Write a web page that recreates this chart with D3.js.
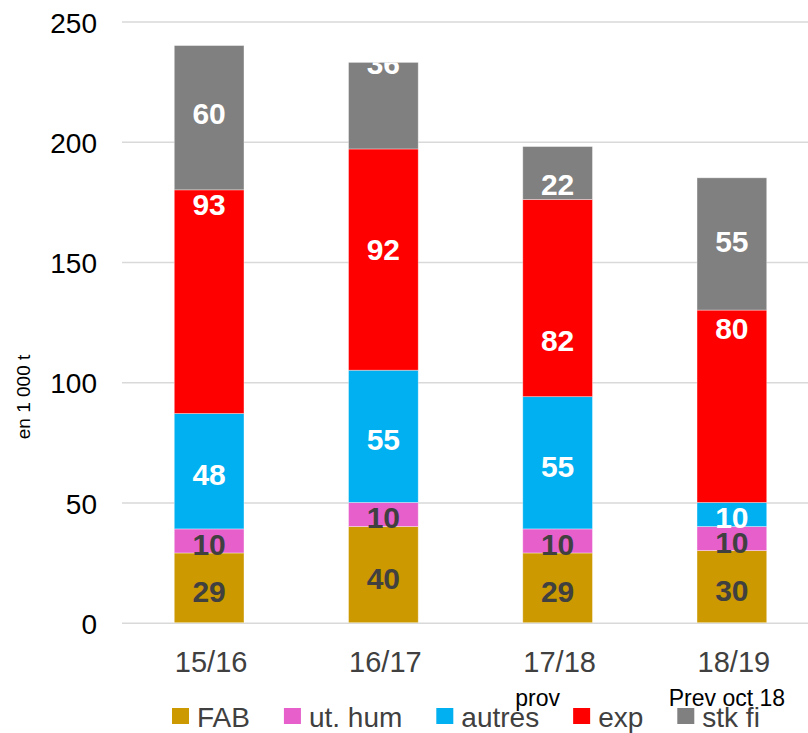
<!DOCTYPE html>
<html>
<head>
<meta charset="utf-8">
<script src="https://cdn.jsdelivr.net/npm/d3@7"></script>
<style>
  body { margin: 0; background: #fff; }
  text { font-family: "Liberation Sans", Arial, sans-serif; }
</style>
</head>
<body>
<svg id="chart" width="808" height="733"></svg>
<script>
// Harvest balance per campaign, in 1 000 t
const categories = ["15/16", "16/17", "17/18", "18/19"];
const subLabels = ["", "", "prov", "Prev oct 18"];
const seriesNames = ["FAB", "ut. hum", "autres", "exp", "stk fi"];
const fab = [29, 40, 29, 30];
const utHum = [10, 10, 10, 10];
const autres = [48, 55, 55, 10];
const exp = [93, 92, 82, 80];
const stkFi = [60, 36, 22, 55];
const yTicks = [0, 50, 100, 150, 200, 250];

// label nudges (data units) for the upper two series
const expLabelShift = [42, 5.5, -16, 34];
const stkLabelShift = [3, 19, -3.5, 2.5];
const subLabelDx = [0, 0, -20, -5];

const colors = ["#CC9900", "#E65FCB", "#00B0F0", "#FF0000", "#808080"];
const labelColors = ["#404040", "#404040", "#ffffff", "#ffffff", "#ffffff"];

const seriesValues = [fab, utHum, autres, exp, stkFi];
const shifts = [null, null, null, expLabelShift, stkLabelShift];

const rows = categories.map((c, i) => {
  const r = { cat: c, idx: i };
  seriesNames.forEach((s, k) => { r[s] = seriesValues[k][i]; });
  return r;
});

const stacked = d3.stack().keys(seriesNames)(rows);

const svg = d3.select("#chart");
const W = 808;
const plotLeft = 122;

const x = d3.scaleBand()
  .domain(categories)
  .range([plotLeft, 819])
  .paddingInner(0.6)
  .paddingOuter(0.3);

const y = d3.scaleLinear().domain([0, 250]).range([622.7, 21.5]);

// gridlines + value axis
const yAxis = d3.axisLeft(y)
  .tickValues(yTicks)
  .tickSizeInner(-(W - plotLeft))
  .tickSizeOuter(0)
  .tickPadding(25);

const gy = svg.append("g")
  .attr("transform", `translate(${plotLeft},0)`)
  .call(yAxis);
gy.select(".domain").remove();
gy.selectAll(".tick line")
  .attr("stroke", "#d9d9d9")
  .attr("stroke-width", 1.4);
gy.selectAll(".tick text")
  .attr("dy", "0.38em")
  .style("font-size", "28px")
  .attr("fill", "#000");

// clip regions per column so labels stay inside their bar
const defs = svg.append("defs");
rows.forEach((r, i) => {
  const total = seriesNames.reduce((a, s) => a + r[s], 0);
  defs.append("clipPath").attr("id", "col" + i)
    .append("rect")
    .attr("x", x(r.cat))
    .attr("y", y(total))
    .attr("width", x.bandwidth())
    .attr("height", y(0) - y(total));
});

// stacked bars
const layers = svg.append("g").selectAll("g")
  .data(stacked)
  .join("g")
  .attr("fill", (d, k) => colors[k]);

layers.selectAll("rect")
  .data(d => d)
  .join("rect")
  .attr("x", d => x(d.data.cat))
  .attr("y", d => y(d[1]))
  .attr("width", x.bandwidth())
  .attr("height", d => y(d[0]) - y(d[1]))
  .attr("stroke", "#ffffff")
  .attr("stroke-opacity", 0.45)
  .attr("stroke-width", 0.8);

// value labels
const labelG = svg.append("g");
stacked.forEach((layer, k) => {
  layer.forEach((d, i) => {
    const mid = (d[0] + d[1]) / 2 + (shifts[k] ? shifts[k][i] : 0);
    labelG.append("text")
      .attr("clip-path", `url(#col${i})`)
      .attr("x", x(d.data.cat) + x.bandwidth() / 2)
      .attr("y", y(mid) + 14)
      .attr("text-anchor", "middle")
      .style("font-size", "30px")
      .style("font-weight", "bold")
      .attr("fill", labelColors[k])
      .text(d[1] - d[0]);
  });
});

// category axis
const xAxis = d3.axisBottom(x).tickSize(0).tickPadding(0);
const gx = svg.append("g")
  .attr("transform", `translate(0,${y(0)})`)
  .call(xAxis);
gx.select(".domain").remove();
gx.selectAll(".tick text")
  .attr("y", 49)
  .attr("dy", 0)
  .attr("dx", 2)
  .style("font-size", "29px")
  .attr("fill", "#404040");

svg.append("g").selectAll("text")
  .data(categories)
  .join("text")
  .attr("x", (c, i) => x(c) + x.bandwidth() / 2 + subLabelDx[i])
  .attr("y", 706)
  .attr("text-anchor", "middle")
  .style("font-size", "23px")
  .attr("fill", "#000")
  .text((c, i) => subLabels[i]);

// axis title
svg.append("text")
  .attr("transform", "translate(30,397) rotate(-90)")
  .attr("text-anchor", "middle")
  .style("font-size", "19px")
  .attr("fill", "#000")
  .text("en 1 000 t");

// legend
const legend = svg.append("g");
let lx = 172;
seriesNames.forEach((s, k) => {
  legend.append("rect")
    .attr("x", lx).attr("y", 708)
    .attr("width", 17).attr("height", 16)
    .attr("fill", colors[k]);
  const t = legend.append("text")
    .attr("x", lx + 25).attr("y", 727)
    .style("font-size", "28px")
    .attr("fill", "#404040")
    .text(s);
  lx += 25 + t.node().getComputedTextLength() + 34;
});
</script>
</body>
</html>
